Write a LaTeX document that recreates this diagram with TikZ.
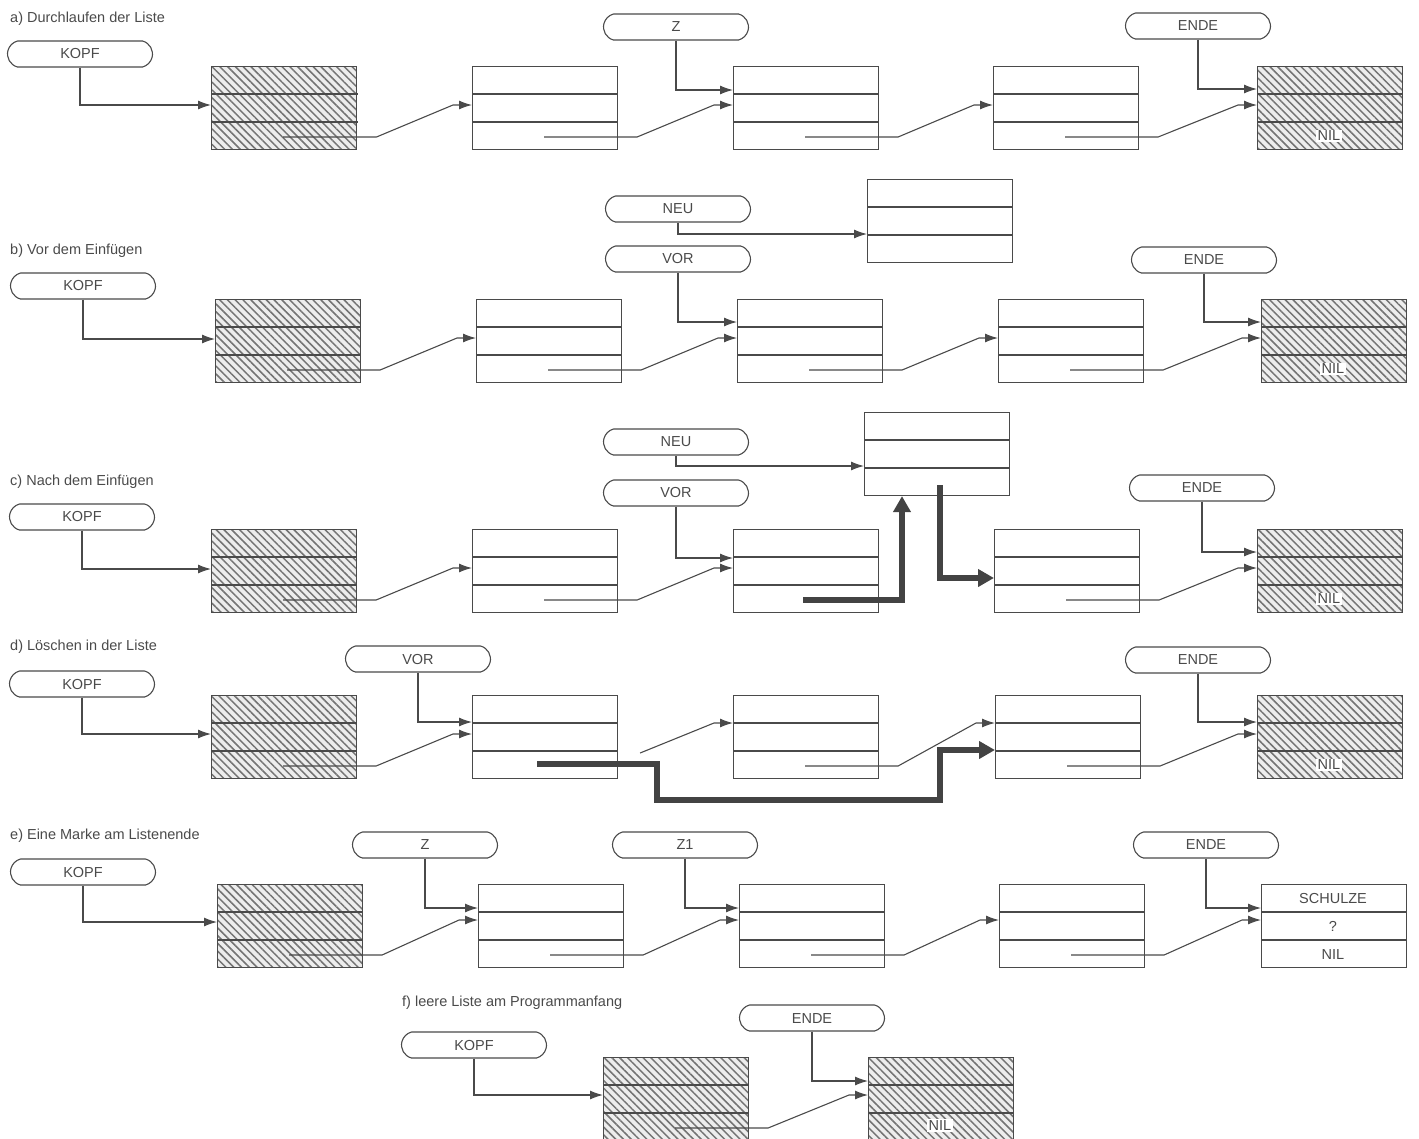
\documentclass[tikz,border=0pt]{standalone}
\usepackage{fontspec}
\setmainfont{Liberation Sans}
\usetikzlibrary{arrows.meta,shapes.misc,patterns.meta,calc}
\definecolor{ink}{HTML}{4A4A4A}
\newcommand\LBox[4][]{%
  \node[lbox,#1,anchor=north west] (#2) at (#3,#4) {};
  \draw[rowl] ($(#2.north west)+(0,28)$) -- ($(#2.north east)+(0,28)$);
  \draw[rowl] ($(#2.north west)+(0,56)$) -- ($(#2.north east)+(0,56)$);
}
\newcommand\Lnk[3][39]{%
  \draw[link] ($(#2.north west)+(72,71)$) -- ($(#2.north east)+(19,71)$)
    -- ($(#3.north west)+(-19,#1)$) -- ($(#3.north west)+(0,#1)$);
}
\newcommand\Pto[3]{%
  \draw[link] (#1.south) |- ($(#2.north west)+(0,#3)$);
}
\begin{document}
\begin{tikzpicture}[x=1pt,y=-1pt,
  ptr/.style={rounded rectangle, rounded rectangle arc length=150, draw=ink, line width=1.1pt,
    minimum width=145pt, minimum height=26pt, inner sep=0pt, text=ink,
    font=\fontsize{14.5}{16}\selectfont},
  lbox/.style={draw=ink, line width=1.1pt, minimum width=145pt, minimum height=83pt, inner sep=0pt},
  hatch/.style={preaction={fill=black!7}, pattern={Lines[angle=-45,distance=5.5pt,line width=1.5pt]},
    pattern color=black!55},
  rowl/.style={draw=ink, line width=1.1pt},
  link/.style={draw=ink, line width=1.1pt, -{Latex[length=13pt,width=9pt]}},
  bigarrow/.style={draw=ink!90!black, line width=6pt, -{Triangle[length=16pt,width=17pt]}},
  ttl/.style={anchor=west, inner sep=0pt, text=ink, font=\fontsize{14.5}{16}\selectfont},
  cell/.style={inner sep=1.5pt, text=ink, font=\fontsize{14.5}{16}\selectfont},
  nil/.style={cell, fill=white}]
\useasboundingbox (0,0) rectangle (1419,1138);

% ---------------- a)
\node[ttl] (ta) at (10,19) {a) Durchlaufen der Liste};
\node[ptr] (aK) at (80,54) {KOPF};
\node[ptr] (aZ) at (676,27) {Z};
\node[ptr] (aE) at (1198,26) {ENDE};
\LBox[hatch]{a1}{211}{66}
\LBox{a2}{472}{66}
\LBox{a3}{733}{66}
\LBox{a4}{993}{66}
\LBox[hatch]{a5}{1257}{66}
\node[nil] (an) at ($(a5.north west)+(72,70)$) {NIL};
\Pto{aK}{a1}{39}
\Pto{aZ}{a3}{24}
\Pto{aE}{a5}{23}
\Lnk{a1}{a2}
\Lnk{a2}{a3}
\Lnk{a3}{a4}
\Lnk{a4}{a5}

% ---------------- b)
\node[ttl] (tb) at (10,251) {b) Vor dem Einfügen};
\node[ptr] (bN) at (678,209) {NEU};
\node[ptr] (bV) at (678,259) {VOR};
\node[ptr] (bK) at (83,286) {KOPF};
\node[ptr] (bE) at (1204,260) {ENDE};
\LBox{nb}{867}{179}
\LBox[hatch]{b1}{215}{299}
\LBox{b2}{476}{299}
\LBox{b3}{737}{299}
\LBox{b4}{998}{299}
\LBox[hatch]{b5}{1261}{299}
\node[nil] (bn) at ($(b5.north west)+(72,70)$) {NIL};
\Pto{bN}{nb}{55}
\Pto{bV}{b3}{23}
\Pto{bK}{b1}{40}
\Pto{bE}{b5}{23}
\Lnk{b1}{b2}
\Lnk{b2}{b3}
\Lnk{b3}{b4}
\Lnk{b4}{b5}

% ---------------- c)
\node[ttl] (tc) at (10,482) {c) Nach dem Einfügen};
\node[ptr] (cN) at (676,442) {NEU};
\node[ptr] (cV) at (676,493) {VOR};
\node[ptr] (cK) at (82,517) {KOPF};
\node[ptr] (cE) at (1202,488) {ENDE};
\LBox{nc}{864}{412}
\LBox[hatch]{c1}{211}{529}
\LBox{c2}{472}{529}
\LBox{c3}{733}{529}
\LBox{c4}{994}{529}
\LBox[hatch]{c5}{1257}{529}
\node[nil] (cn) at ($(c5.north west)+(72,70)$) {NIL};
\Pto{cN}{nc}{54}
\Pto{cV}{c3}{29}
\Pto{cK}{c1}{40}
\Pto{cE}{c5}{23}
\Lnk{c1}{c2}
\Lnk{c2}{c3}
\Lnk{c4}{c5}
\draw[bigarrow] ($(c3.north west)+(70,71)$) -| ($(nc.south west)+(38,0)$);
\draw[bigarrow] ($(nc.north west)+(76,73)$) |- ($(c4.north west)+(0,49)$);

% ---------------- d)
\node[ttl] (td) at (10,647) {d) Löschen in der Liste};
\node[ptr] (dV) at (418,659) {VOR};
\node[ptr] (dK) at (82,684) {KOPF};
\node[ptr] (dE) at (1198,660) {ENDE};
\LBox[hatch]{d1}{211}{695}
\LBox{d2}{472}{695}
\LBox{d3}{733}{695}
\LBox{d4}{995}{695}
\LBox[hatch]{d5}{1257}{695}
\node[nil] (dn) at ($(d5.north west)+(72,70)$) {NIL};
\Pto{dV}{d2}{27}
\Pto{dK}{d1}{39}
\Pto{dE}{d5}{27}
\Lnk{d1}{d2}
\draw[link] ($(d2.north east)+(22,58)$) -- ($(d3.north west)+(-19,28)$) -- ($(d3.north west)+(0,28)$);
\Lnk[28]{d3}{d4}
\Lnk{d4}{d5}
\draw[bigarrow] ($(d2.north west)+(65,69)$) -- ($(d2.north east)+(39,69)$)
  -- ($(d2.north east)+(39,105)$) -| ($(d4.north west)+(-55,55)$) -- ($(d4.north west)+(0,55)$);

% ---------------- e)
\node[ttl] (te) at (10,836) {e) Eine Marke am Listenende};
\node[ptr] (eZ) at (425,845) {Z};
\node[ptr] (eZ1) at (685,845) {Z1};
\node[ptr] (eK) at (83,872) {KOPF};
\node[ptr] (eE) at (1206,845) {ENDE};
\LBox[hatch]{e1}{217}{884}
\LBox{e2}{478}{884}
\LBox{e3}{739}{884}
\LBox{e4}{999}{884}
\LBox{e5}{1261}{884}
\node[cell] (es) at ($(e5.north west)+(72,14)$) {SCHULZE};
\node[cell] (eq) at ($(e5.north west)+(72,42)$) {?};
\node[cell] (en) at ($(e5.north west)+(72,70)$) {NIL};
\Pto{eZ}{e2}{24}
\Pto{eZ1}{e3}{24}
\Pto{eK}{e1}{38}
\Pto{eE}{e5}{24}
\Lnk[36]{e1}{e2}
\Lnk[36]{e2}{e3}
\Lnk[36]{e3}{e4}
\Lnk[36]{e4}{e5}

% ---------------- f)
\node[ttl] (tf) at (402,1003) {f) leere Liste am Programmanfang};
\node[ptr] (fK) at (474,1045) {KOPF};
\node[ptr] (fE) at (812,1018) {ENDE};
\LBox[hatch]{f1}{603}{1057}
\LBox[hatch]{f2}{868}{1057}
\node[nil] (fn) at ($(f2.north west)+(72,68)$) {NIL};
\Pto{fK}{f1}{38}
\Pto{fE}{f2}{24}
\Lnk[38]{f1}{f2}
\end{tikzpicture}
\end{document}
